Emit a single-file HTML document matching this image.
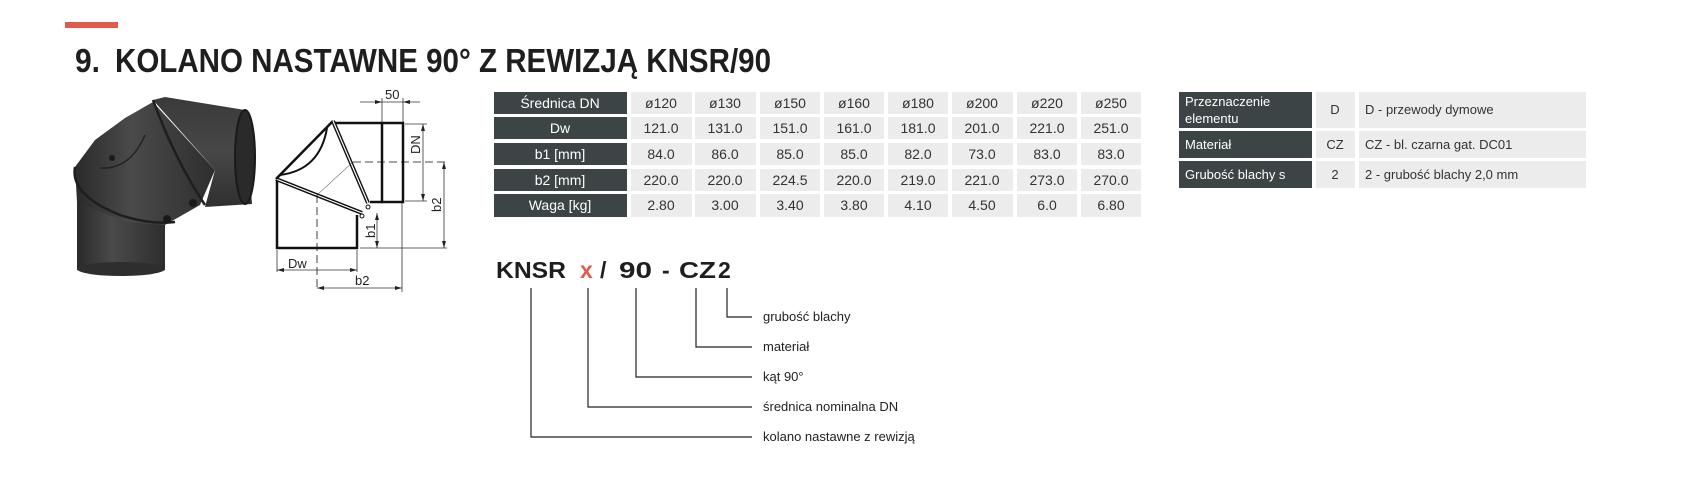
<!DOCTYPE html>
<html><head><meta charset="utf-8"><style>
html,body{margin:0;padding:0;background:#fff;}
svg{display:block;}
text{font-family:"Liberation Sans",sans-serif;}
</style></head><body>
<svg width="1685" height="500" viewBox="0 0 1685 500" xmlns="http://www.w3.org/2000/svg">
<defs>
<linearGradient id="g1" x1="0" y1="0" x2="1" y2="0"><stop offset="0" stop-color="#2a2a2a"/><stop offset="0.4" stop-color="#4a4a4a"/><stop offset="1" stop-color="#2e2e2e"/></linearGradient>
<linearGradient id="g2" x1="0" y1="0" x2="0" y2="1"><stop offset="0" stop-color="#3a3a3a"/><stop offset="0.5" stop-color="#474747"/><stop offset="1" stop-color="#2f2f2f"/></linearGradient>
</defs>
<rect x="65" y="22" width="53" height="6" fill="#e05a4e"/>
<text x="75" y="72" font-size="33" font-weight="bold" fill="#1e1e1e" textLength="25" lengthAdjust="spacingAndGlyphs">9.</text>
<text x="115" y="72" font-size="33" font-weight="bold" fill="#1e1e1e" textLength="656" lengthAdjust="spacingAndGlyphs">KOLANO NASTAWNE 90° Z REWIZJĄ KNSR/90</text>

<!-- photo -->
<g>
<rect x="77" y="190" width="88" height="80" fill="url(#g1)"/>
<ellipse cx="121" cy="269" rx="44" ry="7" fill="#2e2e2e"/>
<polygon points="75,167 95,140 125,118 153,102 215,170 200,205 165,225 125,222 77,202" fill="url(#g1)"/>
<polygon points="153,100 165,97 245,110 252,204 205,207 215,170" fill="url(#g2)"/>
<ellipse cx="245" cy="157" rx="10" ry="47" fill="#2a2a2a" stroke="#1a1a1a" stroke-width="2"/>
<path d="M153,100 Q175,160 205,205" fill="none" stroke="#1e1e1e" stroke-width="2.5"/>
<path d="M75,167 Q70,195 120,215 Q150,225 175,222" fill="none" stroke="#1e1e1e" stroke-width="2.5"/>
<path d="M100,168 Q130,170 145,135" fill="none" stroke="#222" stroke-width="1.5"/>
<circle cx="112" cy="158" r="3" fill="#1a1a1a"/>
<circle cx="193" cy="203" r="4" fill="#1a1a1a"/>
<circle cx="167" cy="219" r="4" fill="#1a1a1a"/>
</g>

<!-- technical drawing -->
<g fill="none" stroke="#111">
<polyline points="277,180 277,248 357,248 357,215" stroke-width="2.5"/>
<line x1="276" y1="179" x2="362" y2="213" stroke-width="4"/>
<line x1="276" y1="179" x2="362" y2="213" stroke="#fff" stroke-width="1.2"/>
<line x1="276" y1="179" x2="333" y2="121" stroke-width="2.5"/>
<path d="M280,175 Q320,170 327,128" stroke-width="2"/>
<line x1="333" y1="121" x2="368" y2="203" stroke-width="4"/>
<line x1="333" y1="121" x2="368" y2="203" stroke="#fff" stroke-width="1.2"/>
<line x1="335" y1="123" x2="382" y2="123" stroke-width="2.5"/>
<line x1="370" y1="202" x2="382" y2="202" stroke-width="2.5"/>
<rect x="382" y="123" width="21" height="79" stroke-width="2.5"/>
<circle cx="368" cy="207" r="2" stroke-width="1"/>
<circle cx="362" cy="216" r="2" stroke-width="1"/>
<line x1="353" y1="162" x2="445" y2="162" stroke-width="0.8" stroke-dasharray="8,4"/>
<line x1="317" y1="195" x2="317" y2="290" stroke-width="0.8" stroke-dasharray="8,4"/>
<line x1="317" y1="195" x2="353" y2="162" stroke-width="0.5"/>
<g stroke-width="0.8" stroke="#333">
<line x1="382" y1="98" x2="382" y2="122"/><line x1="403" y1="98" x2="403" y2="122"/>
<line x1="360" y1="102" x2="420" y2="102"/>
<line x1="405" y1="124" x2="427" y2="124"/><line x1="405" y1="201" x2="427" y2="201"/>
<line x1="423" y1="124" x2="423" y2="201"/>
<line x1="444" y1="162" x2="444" y2="248"/>
<line x1="360" y1="248" x2="447" y2="248"/>
<line x1="377" y1="213" x2="377" y2="248"/>
<line x1="402" y1="203" x2="402" y2="292"/>
<line x1="277" y1="250" x2="277" y2="272"/><line x1="357" y1="250" x2="357" y2="272"/>
<line x1="277" y1="270" x2="357" y2="270"/>
<line x1="317" y1="288" x2="402" y2="288"/>
</g>
</g>
<g fill="#222">
<polygon points="382,102 375,100 375,104"/><polygon points="403,102 410,100 410,104"/>
<polygon points="423,124 421,131 425,131"/><polygon points="423,201 421,194 425,194"/>
<polygon points="444,162 442,169 446,169"/><polygon points="444,248 442,241 446,241"/>
<polygon points="377,213 375,220 379,220"/><polygon points="377,248 375,241 379,241"/>
<polygon points="277,270 284,268 284,272"/><polygon points="357,270 350,268 350,272"/>
<polygon points="317,288 324,286 324,290"/><polygon points="402,288 395,286 395,290"/>
</g>
<g font-size="13" fill="#222">
<text x="385" y="99">50</text>
<text transform="translate(420,154) rotate(-90)">DN</text>
<text transform="translate(441,212) rotate(-90)">b2</text>
<text transform="translate(375,238) rotate(-90)">b1</text>
<text x="288" y="268">Dw</text>
<text x="355" y="285">b2</text>
</g>

<!-- table 1 -->
<g font-size="14">
<g fill="#3d4446">
<rect x="494" y="92" width="133" height="22"/><rect x="494" y="117" width="133" height="22"/>
<rect x="494" y="143" width="133" height="22"/><rect x="494" y="169" width="133" height="22"/>
<rect x="494" y="194" width="133" height="23"/>
</g>
<g fill="#fff" text-anchor="middle">
<text x="560" y="108">Średnica DN</text><text x="560" y="133">Dw</text>
<text x="560" y="159">b1 [mm]</text><text x="560" y="185">b2 [mm]</text><text x="560" y="210">Waga [kg]</text>
</g>
<g fill="#ececec">
<rect x="631" y="92" width="61" height="22"/><rect x="695" y="92" width="61" height="22"/><rect x="760" y="92" width="60" height="22"/><rect x="824" y="92" width="60" height="22"/><rect x="888" y="92" width="60" height="22"/><rect x="952" y="92" width="61" height="22"/><rect x="1017" y="92" width="60" height="22"/><rect x="1081" y="92" width="60" height="22"/>
<rect x="631" y="117" width="61" height="22"/><rect x="695" y="117" width="61" height="22"/><rect x="760" y="117" width="60" height="22"/><rect x="824" y="117" width="60" height="22"/><rect x="888" y="117" width="60" height="22"/><rect x="952" y="117" width="61" height="22"/><rect x="1017" y="117" width="60" height="22"/><rect x="1081" y="117" width="60" height="22"/>
<rect x="631" y="143" width="61" height="22"/><rect x="695" y="143" width="61" height="22"/><rect x="760" y="143" width="60" height="22"/><rect x="824" y="143" width="60" height="22"/><rect x="888" y="143" width="60" height="22"/><rect x="952" y="143" width="61" height="22"/><rect x="1017" y="143" width="60" height="22"/><rect x="1081" y="143" width="60" height="22"/>
<rect x="631" y="169" width="61" height="22"/><rect x="695" y="169" width="61" height="22"/><rect x="760" y="169" width="60" height="22"/><rect x="824" y="169" width="60" height="22"/><rect x="888" y="169" width="60" height="22"/><rect x="952" y="169" width="61" height="22"/><rect x="1017" y="169" width="60" height="22"/><rect x="1081" y="169" width="60" height="22"/>
<rect x="631" y="194" width="61" height="23"/><rect x="695" y="194" width="61" height="23"/><rect x="760" y="194" width="60" height="23"/><rect x="824" y="194" width="60" height="23"/><rect x="888" y="194" width="60" height="23"/><rect x="952" y="194" width="61" height="23"/><rect x="1017" y="194" width="60" height="23"/><rect x="1081" y="194" width="60" height="23"/>
</g>
<g fill="#333" text-anchor="middle">
<text x="661" y="108">ø120</text><text x="725" y="108">ø130</text><text x="790" y="108">ø150</text><text x="854" y="108">ø160</text><text x="918" y="108">ø180</text><text x="982" y="108">ø200</text><text x="1047" y="108">ø220</text><text x="1111" y="108">ø250</text>
<text x="661" y="133">121.0</text><text x="725" y="133">131.0</text><text x="790" y="133">151.0</text><text x="854" y="133">161.0</text><text x="918" y="133">181.0</text><text x="982" y="133">201.0</text><text x="1047" y="133">221.0</text><text x="1111" y="133">251.0</text>
<text x="661" y="159">84.0</text><text x="725" y="159">86.0</text><text x="790" y="159">85.0</text><text x="854" y="159">85.0</text><text x="918" y="159">82.0</text><text x="982" y="159">73.0</text><text x="1047" y="159">83.0</text><text x="1111" y="159">83.0</text>
<text x="661" y="185">220.0</text><text x="725" y="185">220.0</text><text x="790" y="185">224.5</text><text x="854" y="185">220.0</text><text x="918" y="185">219.0</text><text x="982" y="185">221.0</text><text x="1047" y="185">273.0</text><text x="1111" y="185">270.0</text>
<text x="661" y="210">2.80</text><text x="725" y="210">3.00</text><text x="790" y="210">3.40</text><text x="854" y="210">3.80</text><text x="918" y="210">4.10</text><text x="982" y="210">4.50</text><text x="1047" y="210">6.0</text><text x="1111" y="210">6.80</text>
</g>
</g>

<!-- table 2 -->
<g font-size="13">
<rect x="1179" y="92" width="133" height="36" fill="#3d4446"/>
<rect x="1179" y="131" width="133" height="27" fill="#3d4446"/>
<rect x="1179" y="161" width="133" height="27" fill="#3d4446"/>
<g fill="#ececec">
<rect x="1316" y="92" width="39" height="36"/><rect x="1359" y="92" width="227" height="36"/>
<rect x="1316" y="131" width="39" height="27"/><rect x="1359" y="131" width="227" height="27"/>
<rect x="1316" y="161" width="39" height="27"/><rect x="1359" y="161" width="227" height="27"/>
</g>
<g fill="#fff">
<text x="1185" y="106">Przeznaczenie</text><text x="1185" y="123">elementu</text>
<text x="1185" y="149">Materiał</text><text x="1185" y="179">Grubość blachy s</text>
</g>
<g fill="#333">
<text x="1335" y="114" text-anchor="middle">D</text>
<text x="1335" y="149" text-anchor="middle">CZ</text>
<text x="1335" y="179" text-anchor="middle">2</text>
<text x="1365" y="114">D - przewody dymowe</text>
<text x="1365" y="149">CZ - bl. czarna gat. DC01</text>
<text x="1365" y="179">2 - grubość blachy 2,0 mm</text>
</g>
</g>

<!-- code -->
<g font-size="23" font-weight="bold" fill="#1e1e1e">
<text x="496" y="278" textLength="70" lengthAdjust="spacingAndGlyphs">KNSR</text>
<text x="580" y="278" fill="#e05a4e">x</text>
<text x="600" y="278">/</text>
<text x="619" y="278" textLength="33" lengthAdjust="spacingAndGlyphs">90</text>
<text x="662" y="278">-</text>
<text x="679" y="278" textLength="37" lengthAdjust="spacingAndGlyphs">CZ</text>
<text x="718" y="278">2</text>
</g>
<g fill="none" stroke="#222" stroke-width="1.2">
<polyline points="531,288 531,437 752,437"/>
<polyline points="588,288 588,407 752,407"/>
<polyline points="636,288 636,377 752,377"/>
<polyline points="696,288 696,347 752,347"/>
<polyline points="727,288 727,317 752,317"/>
</g>
<g font-size="13" fill="#222">
<text x="763" y="321">grubość blachy</text>
<text x="763" y="351">materiał</text>
<text x="763" y="381">kąt 90°</text>
<text x="763" y="411">średnica nominalna DN</text>
<text x="763" y="441">kolano nastawne z rewizją</text>
</g>
</svg>
</body></html>
